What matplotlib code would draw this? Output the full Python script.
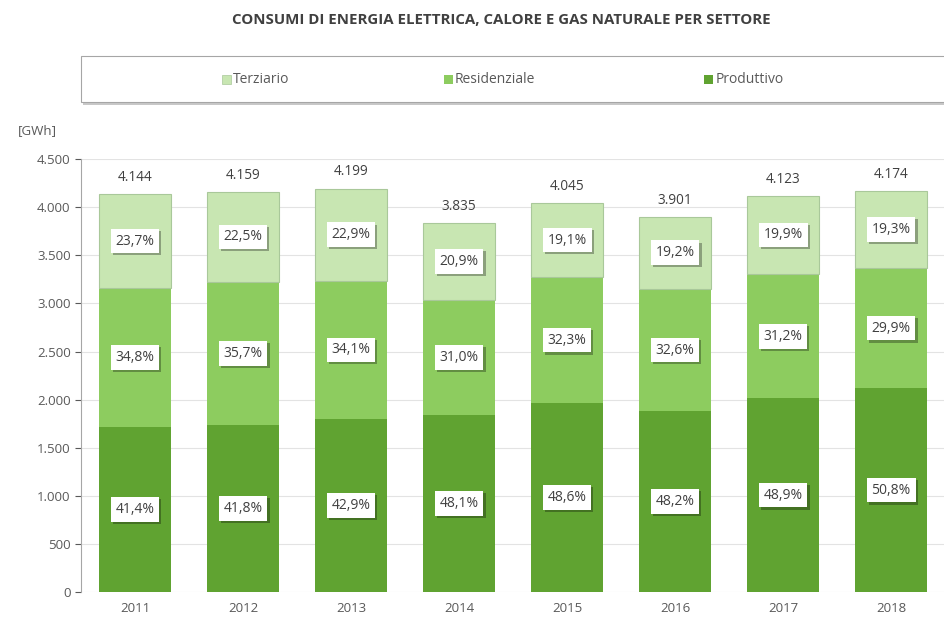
# Consumi di energia elettrica, calore e gas naturale per settore

import numpy as np
import matplotlib.pyplot as plt
from matplotlib.patches import Rectangle
from matplotlib.ticker import FuncFormatter
import matplotlib.patheffects as pe

plt.rcParams['font.family'] = ['Open Sans', 'DejaVu Sans']

years = ["2011", "2012", "2013", "2014", "2015", "2016", "2017", "2018"]
totals = [4144, 4159, 4199, 3835, 4045, 3901, 4123, 4174]

produttivo = [1716, 1738, 1801, 1845, 1966, 1880, 2016, 2120]
residenziale = [1442, 1485, 1432, 1189, 1307, 1272, 1286, 1248]
terziario = [982, 936, 962, 802, 773, 749, 820, 806]

pct_produttivo = ["41,4%", "41,8%", "42,9%", "48,1%", "48,6%", "48,2%", "48,9%", "50,8%"]
pct_residenziale = ["34,8%", "35,7%", "34,1%", "31,0%", "32,3%", "32,6%", "31,2%", "29,9%"]
pct_terziario = ["23,7%", "22,5%", "22,9%", "20,9%", "19,1%", "19,2%", "19,9%", "19,3%"]

series_names = ["Terziario", "Residenziale", "Produttivo"]
colors = {"Produttivo": "#60a331", "Residenziale": "#8dcc5f", "Terziario": "#c8e6b2"}

fig = plt.figure(figsize=(9.44, 6.17), dpi=100)
ax = fig.add_axes([0.0858, 0.0405, 0.9153, 0.7015])

x = np.arange(len(years))
w = 0.667
bottom = np.zeros(len(years))
stack = [("Produttivo", produttivo, pct_produttivo),
         ("Residenziale", residenziale, pct_residenziale),
         ("Terziario", terziario, pct_terziario)]

for name, vals, pcts in stack:
    vals = np.array(vals)
    ec = "#a9c89a" if name == "Terziario" else "none"
    ax.bar(x, vals, w, bottom=bottom, color=colors[name], edgecolor=ec,
           linewidth=0.8, zorder=2)
    for xi, b, v, p in zip(x, bottom, vals, pcts):
        t = ax.text(xi, b + v / 2, p, ha="center", va="center", fontsize=10,
                    color="#404040", zorder=5,
                    bbox=dict(boxstyle="square,pad=0.35", fc="white", ec="none"))
        t.get_bbox_patch().set_path_effects(
            [pe.withSimplePatchShadow(offset=(1.5, -1.5), shadow_rgbFace="black", alpha=0.3)])
    bottom = bottom + vals

for xi, tot in zip(x, totals):
    ax.text(xi, tot + 90, f"{tot:,}".replace(",", "."), ha="center", va="bottom",
            fontsize=9.8, color="#404040")

ax.set_xlim(-0.5, len(years) - 0.5)
ax.set_ylim(0, 4500)
ax.set_yticks(np.arange(0, 4501, 500))
ax.yaxis.set_major_formatter(FuncFormatter(lambda v, p: f"{int(v):,}".replace(",", ".")))
ax.set_xticks(x)
ax.set_xticklabels(years)
ax.tick_params(axis="y", colors="#595959", labelsize=9.5, length=4, width=0.8)
ax.tick_params(axis="x", colors="#595959", labelsize=9.5, length=0, pad=7)
ax.yaxis.grid(True, color="#e3e3e3", linewidth=0.8, zorder=0)
ax.set_axisbelow(True)
for s in ["top", "right", "bottom"]:
    ax.spines[s].set_visible(False)
ax.spines["left"].set_color("#a6a6a6")

fig.text(0.019, 0.789, "[GWh]", fontsize=9.5, color="#595959", va="center")

fig.text(0.531, 0.968, "CONSUMI DI ENERGIA ELETTRICA, CALORE E GAS NATURALE PER SETTORE",
         ha="center", va="center", fontsize=10.8, fontweight="bold", color="#404040")

# legend box
shadow = Rectangle((0.0880, 0.830), 0.92, 0.075, transform=fig.transFigure,
                   fc="#c8c8c8", ec="none", zorder=0)
box = Rectangle((0.0858, 0.834), 0.92, 0.075, transform=fig.transFigure,
                fc="white", ec="#a6a6a6", lw=0.8, zorder=1)
fig.patches.extend([shadow, box])
leg_x = [0.235, 0.470, 0.746]
for name, lx in zip(series_names, leg_x):
    fig.patches.append(Rectangle((lx, 0.864), 0.0095, 0.0145, transform=fig.transFigure,
                                 fc=colors[name], ec="#a9c89a" if name == "Terziario" else "none",
                                 lw=0.5, zorder=2))
    fig.text(lx + 0.012, 0.871, name, fontsize=10, color="#595959", va="center", zorder=3)

fig.savefig("out.png", dpi=100)
